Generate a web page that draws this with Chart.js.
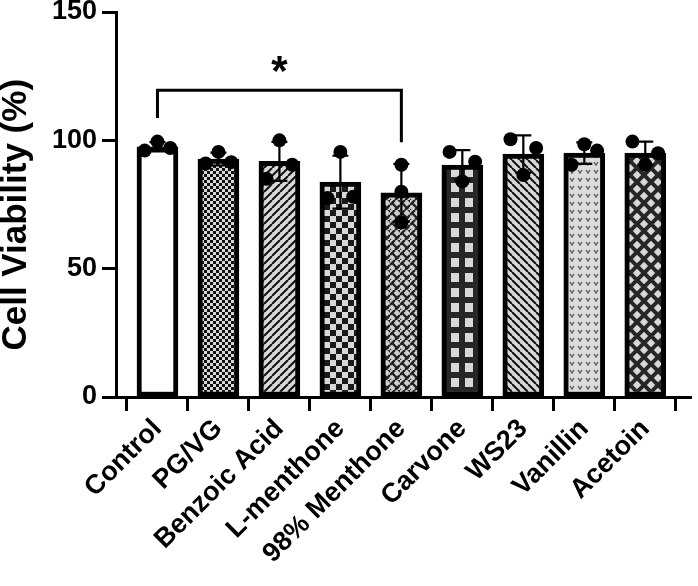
<!DOCTYPE html>
<html>
<head>
<meta charset="utf-8">
<script src="https://cdn.jsdelivr.net/npm/chart.js@4/dist/chart.umd.min.js"></script>
<style>
  html, body { margin: 0; padding: 0; background: #fff; }
  #wrap { width: 698px; height: 586px; }
</style>
</head>
<body>
<div id="wrap"><canvas id="c" width="698" height="586"></canvas></div>
<script>
// ---- data ----
const CATEGORIES = ['Control', 'PG/VG', 'Benzoic Acid', 'L-menthone', '98% Menthone', 'Carvone', 'WS23', 'Vanillin', 'Acetoin'];
const MEANS = [97.5, 92.7, 91.8, 83.7, 79.5, 90.4, 94.6, 95.0, 95.0];
const SDS = [1.8, 2.5, 7.6, 10.3, 11.3, 5.8, 7.3, 4.2, 4.5];
const REPLICATES = [
  [96.0, 99.5, 97.0],
  [91.0, 95.5, 91.5],
  [85.0, 100.0, 90.5],
  [77.5, 95.5, 78.0],
  [90.5, 80.0, 68.0],
  [95.5, 84.0, 91.7],
  [100.4, 86.5, 97.0],
  [90.5, 98.5, 96.0],
  [99.5, 90.5, 95.0]
];
const Y_TICKS = [0, 50, 100, 150];
const Y_TITLE = 'Cell Viability (%)';
const SIG_FROM = 0, SIG_TO = 4, SIG_LEVEL = 119.5, SIG_LEFT_END = 108.7, SIG_RIGHT_END = 99.3, SIG_TEXT = '*';

// ---- layout / style constants ----
const JITTER = [-0.21, 0, 0.21];
const SPREAD = [1, 1, 1, 1, 0, 1, 1, 1, 1];
const FONT = '"Liberation Sans", Arial, Helvetica, sans-serif';
const LIGHT = '#d8d8d8', DARK = '#262626';
const TITLE_CENTER_VALUE = 71;

function tile(w, h, draw) {
  const c = document.createElement('canvas');
  c.width = w; c.height = h;
  const g = c.getContext('2d');
  draw(g, w, h);
  return document.getElementById('c').getContext('2d').createPattern(c, 'repeat');
}
function diag(g, w, h, dir, color, lw) {
  g.strokeStyle = color; g.lineWidth = lw;
  for (let k = -1; k <= 1; k++) {
    g.beginPath();
    if (dir > 0) { g.moveTo(k * w, h); g.lineTo(k * w + w, 0); }
    else { g.moveTo(k * w, 0); g.lineTo(k * w + w, h); }
    g.stroke();
  }
}
const PATTERNS = [
  '#ffffff',
  tile(6, 6, (g) => { g.fillStyle = LIGHT; g.fillRect(0, 0, 6, 6); g.fillStyle = '#111'; g.fillRect(0, 0, 3, 3); g.fillRect(3, 3, 3, 3); }),
  tile(8, 8, (g, w, h) => { g.fillStyle = LIGHT; g.fillRect(0, 0, w, h); diag(g, w, h, 1, '#111', 2); }),
  tile(12, 12, (g) => { g.fillStyle = LIGHT; g.fillRect(0, 0, 12, 12); g.fillStyle = '#1a1a1a'; g.fillRect(0, 0, 6, 6); g.fillRect(6, 6, 6, 6); }),
  tile(10, 10, (g, w, h) => {
    g.fillStyle = '#cfcfcf'; g.fillRect(0, 0, w, h);
    g.strokeStyle = '#222'; g.lineWidth = 2.4; g.lineCap = 'butt';
    g.beginPath(); g.moveTo(0, 5); g.lineTo(5, 0); g.moveTo(5, 10); g.lineTo(10, 5); g.stroke();
    g.beginPath(); g.moveTo(2, 3); g.lineTo(8, 9); g.moveTo(7, -2); g.lineTo(12, 3); g.moveTo(-3, 7); g.lineTo(1, 11); g.stroke();
  }),
  tile(14, 15, (g) => { g.fillStyle = DARK; g.fillRect(0, 0, 14, 15); g.fillStyle = LIGHT; g.fillRect(3, 3, 8, 9); }),
  tile(8, 8, (g, w, h) => { g.fillStyle = LIGHT; g.fillRect(0, 0, w, h); diag(g, w, h, -1, '#111', 2); }),
  tile(8, 8, (g) => {
    g.fillStyle = '#dcdcdc'; g.fillRect(0, 0, 8, 8);
    g.strokeStyle = '#555'; g.lineWidth = 1.3;
    g.beginPath(); g.moveTo(2, 2); g.lineTo(4, 5); g.lineTo(6, 2); g.stroke();
  }),
  tile(14, 14, (g) => {
    g.fillStyle = DARK; g.fillRect(0, 0, 14, 14);
    g.fillStyle = LIGHT;
    const d = (cx, cy, r) => { g.beginPath(); g.moveTo(cx, cy - r); g.lineTo(cx + r, cy); g.lineTo(cx, cy + r); g.lineTo(cx - r, cy); g.closePath(); g.fill(); };
    d(7, 7, 4.2); d(0, 0, 4.2); d(14, 0, 4.2); d(0, 14, 4.2); d(14, 14, 4.2);
  })
];

const barData = CATEGORIES.map((_, i) => ({ x: i, y: MEANS[i] }));
const pointData = [];
REPLICATES.forEach((reps, i) => reps.forEach((v, j) => pointData.push({ x: i + JITTER[j] * SPREAD[i], y: v })));

const overlay = {
  id: 'overlay',
  afterDatasetDraw(chart, args) {
    if (args.index !== 0) return;
    const ctx = chart.ctx, xs = chart.scales.x, ys = chart.scales.y;
    ctx.save();
    ctx.strokeStyle = '#000'; ctx.lineWidth = 2.2;
    MEANS.forEach((m, i) => {
      const x = xs.getPixelForValue(i);
      const yt = ys.getPixelForValue(m + SDS[i]);
      const yb = ys.getPixelForValue(m - SDS[i]);
      const cap = 8;
      ctx.beginPath();
      ctx.moveTo(x, yt); ctx.lineTo(x, yb);
      ctx.moveTo(x - cap, yt); ctx.lineTo(x + cap, yt);
      ctx.moveTo(x - cap, yb); ctx.lineTo(x + cap, yb);
      ctx.stroke();
    });
    ctx.restore();
  },
  afterDraw(chart) {
    const ctx = chart.ctx, xs = chart.scales.x, ys = chart.scales.y;
    const x0 = xs.getPixelForValue(SIG_FROM), x1 = xs.getPixelForValue(SIG_TO);
    const yl = ys.getPixelForValue(SIG_LEVEL);
    ctx.save();
    ctx.strokeStyle = '#000'; ctx.lineWidth = 3; ctx.lineCap = 'butt';
    ctx.beginPath();
    ctx.moveTo(x0, ys.getPixelForValue(SIG_LEFT_END));
    ctx.lineTo(x0, yl); ctx.lineTo(x1, yl);
    ctx.lineTo(x1, ys.getPixelForValue(SIG_RIGHT_END));
    ctx.stroke();
    ctx.fillStyle = '#000';
    ctx.font = 'bold 42px ' + FONT;
    ctx.textAlign = 'center'; ctx.textBaseline = 'alphabetic';
    ctx.fillText(SIG_TEXT, (x0 + x1) / 2, yl - 5);
    // y-axis title
    ctx.translate(16, ys.getPixelForValue(TITLE_CENTER_VALUE));
    ctx.rotate(-Math.PI / 2);
    ctx.font = 'bold 35px ' + FONT;
    ctx.textBaseline = 'middle';
    ctx.fillText(Y_TITLE, 0, 0);
    ctx.restore();
  }
};

new Chart(document.getElementById('c'), {
  type: 'bar',
  data: {
    datasets: [
      {
        type: 'bar', data: barData, order: 2,
        backgroundColor: PATTERNS, borderColor: '#000', borderWidth: 5, borderSkipped: false,
        barThickness: 41
      },
      {
        type: 'scatter', data: pointData, order: 1,
        pointRadius: 7, pointBackgroundColor: '#000', pointBorderWidth: 0, showLine: false
      }
    ]
  },
  plugins: [overlay],
  options: {
    responsive: false, animation: false,
    layout: { padding: { top: 0, right: 0, bottom: 0, left: 0 } },
    plugins: { legend: { display: false }, tooltip: { enabled: false } },
    scales: {
      x: {
        type: 'linear', min: -0.68, max: 8.75, offset: false,
        afterBuildTicks: (s) => { s.ticks = CATEGORIES.map((_, i) => ({ value: i })); },
        afterFit: (s) => { s.height = 189; s.paddingRight = 0; },
        border: { display: true, color: '#000', width: 3 },
        grid: { display: true, drawOnChartArea: false, drawTicks: true, tickLength: 14, tickWidth: 3, tickColor: '#000' },
        ticks: {
          autoSkip: false, minRotation: 45, maxRotation: 45, padding: 2,
          color: '#000', font: { family: FONT, size: 27, weight: 'bold' },
          callback: (v) => CATEGORIES[v] ?? ''
        }
      },
      y: {
        min: 0, max: 150,
        afterBuildTicks: (s) => { s.ticks = Y_TICKS.map(v => ({ value: v })); },
        afterFit: (s) => { s.width = 116; s.paddingTop = 12; s.paddingBottom = 0; },
        border: { display: true, color: '#000', width: 3 },
        grid: { display: true, drawOnChartArea: false, drawTicks: true, tickLength: 14, tickWidth: 3, tickColor: '#000' },
        ticks: { padding: 5, color: '#000', font: { family: FONT, size: 27, weight: 'bold', lineHeight: 0.9 } },
        title: { display: false }
      }
    }
  }
});
</script>
</body>
</html>
